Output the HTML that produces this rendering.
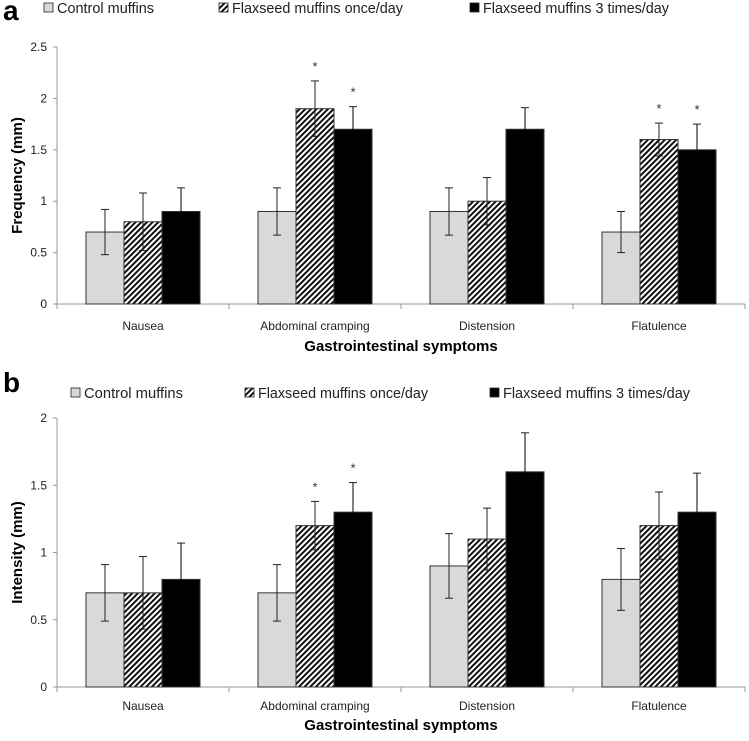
<!DOCTYPE html>
<html><head><meta charset="utf-8"><style>
html,body{margin:0;padding:0;background:#fff;}
svg{display:block;font-family:"Liberation Sans",sans-serif;}
</style></head><body>
<svg id="fig" width="749" height="741" viewBox="0 0 749 741">
<defs>
<pattern id="hatch" patternUnits="userSpaceOnUse" width="4" height="4" patternTransform="rotate(45)">
<rect width="4" height="4" fill="#fff"/><rect width="2" height="4" fill="#111"/>
</pattern>
</defs>
</svg>
<script>
const categories=["Nausea","Abdominal cramping","Distension","Flatulence"];
const seriesNames=["Control muffins","Flaxseed muffins once/day","Flaxseed muffins 3 times/day"];
const freqControl=[0.7,0.9,0.9,0.7];
const freqOnce=[0.8,1.9,1.0,1.6];
const freqThree=[0.9,1.7,1.7,1.5];
const freqControlErr=[0.22,0.23,0.23,0.2];
const freqOnceErr=[0.28,0.27,0.23,0.16];
const freqThreeErr=[0.23,0.22,0.21,0.25];
const freqStars=[[false,false,false],[false,true,true],[false,false,false],[false,true,true]];
const freqTicks=[0,0.5,1,1.5,2,2.5];
const intControl=[0.7,0.7,0.9,0.8];
const intOnce=[0.7,1.2,1.1,1.2];
const intThree=[0.8,1.3,1.6,1.3];
const intControlErr=[0.21,0.21,0.24,0.23];
const intOnceErr=[0.27,0.18,0.23,0.25];
const intThreeErr=[0.27,0.22,0.29,0.29];
const intStars=[[false,false,false],[false,true,true],[false,false,false],[false,false,false]];
const intTicks=[0,0.5,1,1.5,2];

const NS="http://www.w3.org/2000/svg";
const svg=document.getElementById('fig');
function mk(t,a,p){const e=document.createElementNS(NS,t);for(const k in a)e.setAttribute(k,a[k]);(p||svg).appendChild(e);return e;}
const fills=["#d9d9d9","url(#hatch)","#000"];

function panel(o){
  const g=mk('g',{});
  
  
  const x0=57,catW=172,y0=o.y0,yTop=o.yTop,max=o.ticks[o.ticks.length-1];
  const yS=v=>y0-(v/max)*(y0-yTop);
  const xC=i=>x0+i*catW;
  const L=mk('text',{x:3,y:o.letterY,'font-size':28,'font-weight':'bold'},g);L.textContent=o.letter;
  
  o.legX.forEach((lx,s)=>{
    const le=mk('g',{},g);
    
    
    mk('rect',{x:lx,y:o.legY-10,width:9,height:9,fill:fills[s],stroke:'#222','stroke-width':0.8},le);
    const t=mk('text',{x:lx+13,y:o.legY,'font-size':14.5,fill:'#222',textLength:o.legW[s],lengthAdjust:'spacingAndGlyphs'},le);t.textContent=seriesNames[s];
  });
  const ya=mk('line',{x1:x0,y1:yTop,x2:x0,y2:y0,stroke:'#999'},g);
  
  const xa=mk('line',{x1:x0-4,y1:y0,x2:745,y2:y0,stroke:'#999'},g);
  
  o.ticks.forEach(t=>{
    mk('line',{x1:x0-4,y1:yS(t),x2:x0,y2:yS(t),stroke:'#999'},g);
    const tl=mk('text',{x:x0-10,y:yS(t)+4,'font-size':12,'text-anchor':'end',fill:'#222'},g);tl.textContent=t;
    
  });
  for(let i=0;i<=4;i++)mk('line',{x1:xC(i),y1:y0,x2:xC(i),y2:y0+5,stroke:'#999'},g);
  categories.forEach((c,i)=>{
    const t=mk('text',{x:xC(i)+catW/2,y:o.catY,'font-size':12,'text-anchor':'middle',fill:'#222'},g);t.textContent=c;
    
  });
  const xt=mk('text',{x:401,y:o.xtY,'font-size':15,'font-weight':'bold','text-anchor':'middle'},g);xt.textContent="Gastrointestinal symptoms";
  
  const cy=(y0+yTop)/2;
  const yt=mk('text',{x:0,y:0,'font-size':15,'font-weight':'bold','text-anchor':'middle',transform:`translate(22,${cy}) rotate(-90)`},g);yt.textContent=o.yTitle;
  
  const bw=38;
  o.vals.forEach((arr,s)=>{
    arr.forEach((v,i)=>{
      const bx=xC(i)+29+s*bw;
      const r=mk('rect',{x:bx,y:yS(v),width:bw,height:y0-yS(v),fill:fills[s],stroke:'#333','stroke-width':1},g);
      
      
      const e=o.errs[s][i],cx=bx+bw/2;
      const ec=s==2?'#000':'#222';
      const eb=mk('line',{x1:cx,y1:yS(v+e),x2:cx,y2:yS(v-e),stroke:ec,'stroke-width':1},g);
      
      mk('line',{x1:cx-4,y1:yS(v+e),x2:cx+4,y2:yS(v+e),stroke:'#222'},g);
      mk('line',{x1:cx-4,y1:yS(v-e),x2:cx+4,y2:yS(v-e),stroke:ec},g);
      if(o.stars[i][s]){
        const st=mk('text',{x:cx,y:yS(v+e)-10,'font-size':13,'text-anchor':'middle',fill:'#333'},g);st.textContent='*';
        
      }
    });
  });
}
panel({id:'frequency',letter:'a',letterY:20,legY:13,legX:[44,219,470],legW:[97,171,186],y0:304,yTop:47,ticks:freqTicks,
  vals:[freqControl,freqOnce,freqThree],errs:[freqControlErr,freqOnceErr,freqThreeErr],stars:freqStars,
  catY:330,xtY:351,yTitle:'Frequency (mm)'});
panel({id:'intensity',letter:'b',letterY:392,legY:398,legX:[71,245,490],legW:[99,170,187],y0:687,yTop:418,ticks:intTicks,
  vals:[intControl,intOnce,intThree],errs:[intControlErr,intOnceErr,intThreeErr],stars:intStars,
  catY:710,xtY:730,yTitle:'Intensity (mm)'});
</script>
</body></html>
